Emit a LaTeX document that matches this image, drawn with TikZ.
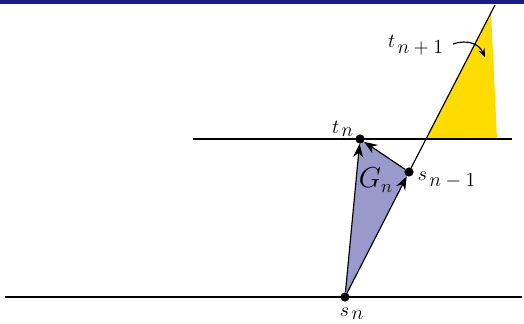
\documentclass[tikz,border=0pt]{standalone}
\usetikzlibrary{arrows.meta}
\definecolor{barblue}{RGB}{28,28,135}
\definecolor{gnfill}{RGB}{153,153,204}
\definecolor{tfill}{RGB}{255,220,0}
\tikzset{
  dot/.style={circle,fill=black,inner sep=0pt,minimum size=5.5pt},
  thinline/.style={line width=0.7pt,black},
  arr/.style={line width=0.7pt,-{Stealth[length=8pt,width=6pt]}},
  lab/.style={inner sep=1pt,font=\fontsize{11.5}{13}\selectfont}
}
\begin{document}
\begin{tikzpicture}[x=0.6pt,y=-0.6pt]
\useasboundingbox (0,0) rectangle (524,323);
\fill[barblue] (0,0) rectangle (524,3.5);
% points
\coordinate (sn) at (345,297);
\coordinate (tn) at (360,139);
\coordinate (snm) at (409,172);
\coordinate (top) at (495,5);
\coordinate (ya) at (426,139);
\coordinate (yb) at (491,12);
\coordinate (yc) at (497,139);
\coordinate (L1) at (5,297);
\coordinate (L2) at (522,297);
\coordinate (U1) at (193,139);
\coordinate (U2) at (512,139);
% fills
\fill[tfill] (ya) -- (yb) -- (yc) -- cycle;
\fill[gnfill] (sn) -- (tn) -- (snm) -- cycle;
% lines
\draw[thinline] (L1) -- (L2);
\draw[thinline] (U1) -- (U2);
\draw[thinline] (snm) -- (top);
% dots
\node[dot] (Nsn) at (sn) {};
\node[dot] (Ntn) at (tn) {};
\node[dot] (Nsnm) at (snm) {};
% arrows
\draw[arr] (Nsn) -- (Ntn);
\draw[arr] (Nsn) -- (Nsnm);
\draw[arr] (Nsnm) -- (Ntn);
% labels
\node[lab] (ltn) at (343,129) {$t_{\,\textstyle n}$};
\node[lab] (lsn) at (352,314) {$s_{\,\textstyle n}$};
\node[lab] (lsnm) at (447,180) {$s_{\,\textstyle n-1}$};
\node[lab,font=\fontsize{16}{18}\selectfont] (lgn) at (376,180) {$G_n$};
\node[lab] (ltn1) at (416,45) {$t_{\,\textstyle n+1}$};
\coordinate (atip) at (485,57);
\draw[line width=0.7pt,-{Stealth[length=5pt,width=4pt]}] (ltn1.east) ++(7,-1) coordinate (astart) .. controls (468,39) and (479,44) .. (atip);
\end{tikzpicture}
\end{document}
